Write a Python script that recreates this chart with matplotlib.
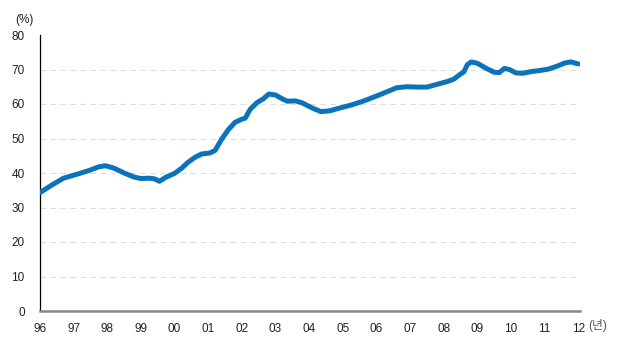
import matplotlib
matplotlib.use('Agg')
import matplotlib.pyplot as plt

plt.rcParams['font.family'] = ['Liberation Sans', 'Noto Sans CJK KR', 'DejaVu Sans']

# 연도(소수점 = 분기 위치), 비율(%)
years = [1996.0, 1996.35, 1996.7, 1997.05, 1997.45, 1997.75, 1997.95, 1998.2, 1998.5, 1998.8,
         1999.0, 1999.25, 1999.4, 1999.55, 1999.75, 2000.0, 2000.2, 2000.4, 2000.6, 2000.8,
         2001.05, 2001.2, 2001.4, 2001.6, 2001.8, 2002.0, 2002.1, 2002.25, 2002.45, 2002.65,
         2002.8, 2003.0, 2003.2, 2003.35, 2003.6, 2003.8, 2004.1, 2004.35, 2004.6, 2004.9,
         2005.25, 2005.6, 2006.0, 2006.3, 2006.6, 2006.9, 2007.2, 2007.5, 2007.8, 2008.1,
         2008.3, 2008.5, 2008.6, 2008.7, 2008.82, 2009.0, 2009.25, 2009.5, 2009.65, 2009.8,
         2009.95, 2010.15, 2010.35, 2010.6, 2010.85, 2011.1, 2011.35, 2011.6, 2011.78, 2012.0]
values = [34.3, 36.5, 38.5, 39.5, 40.7, 41.8, 42.1, 41.4, 40.0, 38.8,
          38.4, 38.5, 38.3, 37.6, 38.8, 39.9, 41.3, 43.1, 44.5, 45.5,
          45.8, 46.5, 49.8, 52.6, 54.7, 55.6, 55.9, 58.5, 60.4, 61.6,
          62.9, 62.6, 61.5, 60.8, 60.9, 60.3, 58.8, 57.8, 58.0, 58.8,
          59.7, 60.8, 62.3, 63.5, 64.7, 65.0, 64.9, 64.9, 65.7, 66.5,
          67.2, 68.7, 69.3, 71.4, 72.2, 71.8, 70.4, 69.2, 69.1, 70.3,
          70.0, 69.0, 68.9, 69.4, 69.7, 70.1, 70.9, 71.9, 72.2, 71.6]

tick_years = list(range(1996, 2013))
tick_labels = ['96', '97', '98', '99', '00', '01', '02', '03', '04', '05',
               '06', '07', '08', '09', '10', '11', '12']
y_ticks = [0, 10, 20, 30, 40, 50, 60, 70, 80]

fig = plt.figure(figsize=(6.2, 3.48), dpi=100)
ax = fig.add_axes([40 / 620, 1 - 311 / 348, 540 / 620, 276 / 348])

# 점선 보조선 (10~70)
for y in y_ticks[1:-1]:
    ax.axhline(y, color='#dcdcdc', lw=0.8, ls=(0, (5, 4)), zorder=1)

ax.plot(years, values, color='#0a73bb', lw=3.6, solid_capstyle='round',
        solid_joinstyle='round', zorder=3)

ax.set_xlim(1996, 2012.05)
ax.set_ylim(0, 80)
ax.set_xticks(tick_years)
ax.set_xticklabels(tick_labels)
ax.set_yticks(y_ticks)
ax.tick_params(length=0, labelsize=8.5, colors='#222222')
ax.tick_params(axis='y', pad=11)
ax.tick_params(axis='x', pad=9)

for s in ['top', 'right']:
    ax.spines[s].set_visible(False)
ax.spines['left'].set_color('black')
ax.spines['left'].set_linewidth(0.9)
ax.spines['bottom'].set_color('#888888')
ax.spines['bottom'].set_linewidth(1.8)

fig.text(24 / 620, 1 - 20 / 348, '(%)', fontsize=8.5, color='#222222',
         ha='center', va='center')
fig.text(588 / 620, 1 - 326 / 348, '(년)', fontsize=8.5, color='#555555',
         ha='left', va='center')

fig.savefig('out.png', dpi=100)
